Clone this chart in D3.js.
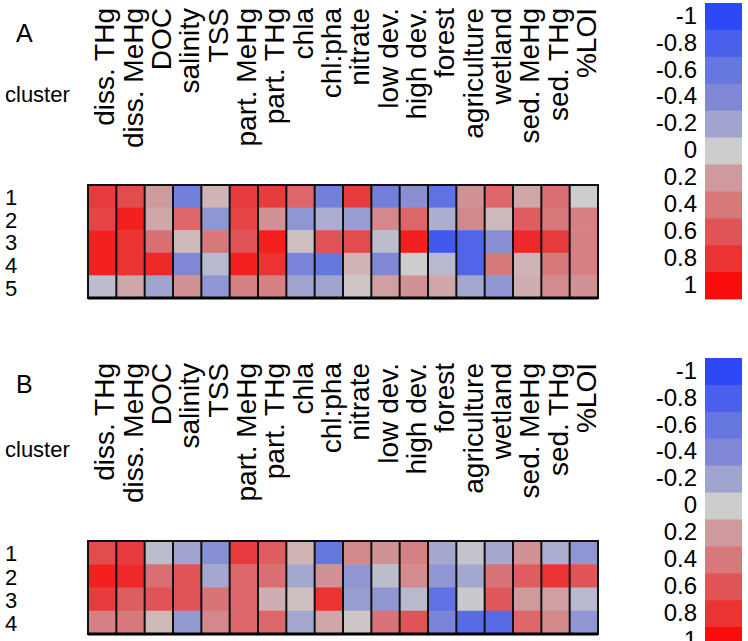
<!DOCTYPE html>
<html>
<head>
<meta charset="utf-8">
<script src="https://cdn.jsdelivr.net/npm/d3@7"></script>
<style>
  html, body { margin: 0; padding: 0; background: #fff; }
  svg { display: block; font-family: "Liberation Sans", Arial, sans-serif; }
</style>
</head>
<body>
<svg id="chart" width="748" height="641"></svg>
<script>
// ---------------- data ----------------
const variables = ["diss. THg", "diss. MeHg", "DOC", "salinity", "TSS", "part. MeHg", "part. THg",
  "chla", "chl:pha", "nitrate", "low dev.", "high dev.", "forest", "agriculture", "wetland",
  "sed. MeHg", "sed. THg", "%LOI"];

const clustersA = ["1", "2", "3", "4", "5"];
const valuesA = [
  [0.75, 0.65, 0.2, -0.5, 0.1, 0.75, 0.75, 0.5, -0.5, 0.75, -0.5, -0.35, -0.65, 0.25, 0.5, 0.15, 0.45, 0.0],
  [0.7, 0.9, 0.15, 0.5, -0.3, 0.7, 0.25, -0.3, -0.15, -0.25, 0.3, 0.5, -0.15, 0.3, 0.08, 0.55, 0.4, 0.35],
  [0.9, 0.8, 0.45, 0.08, 0.4, 0.6, 0.9, 0.05, 0.6, 0.65, -0.08, 0.9, -0.85, -0.75, -0.35, 0.85, 0.75, 0.35],
  [0.9, 0.8, 0.85, -0.4, -0.1, 0.9, 0.8, -0.45, -0.6, 0.1, -0.4, 0.0, -0.1, -0.75, 0.4, 0.1, 0.4, 0.35],
  [-0.08, 0.15, -0.2, 0.25, -0.3, 0.35, 0.35, -0.2, -0.2, 0.03, 0.18, 0.25, 0.15, -0.18, -0.3, 0.12, 0.28, 0.25]
];

const clustersB = ["1", "2", "3", "4"];
const valuesB = [
  [0.65, 0.75, -0.08, -0.2, -0.35, 0.75, 0.55, 0.1, -0.6, 0.3, 0.25, 0.35, -0.18, -0.05, -0.18, 0.25, -0.15, -0.3],
  [0.9, 0.85, 0.45, 0.6, -0.18, 0.5, 0.45, -0.18, 0.25, -0.3, -0.08, 0.28, -0.3, -0.18, 0.42, 0.55, 0.8, 0.6],
  [0.75, 0.55, 0.6, 0.6, 0.42, 0.5, 0.12, 0.05, 0.8, -0.25, -0.3, -0.1, -0.65, -0.02, 0.58, 0.2, 0.18, -0.1],
  [0.35, 0.4, 0.08, -0.28, 0.3, 0.5, 0.5, -0.18, 0.15, 0.03, 0.42, 0.6, -0.45, -0.7, -0.7, 0.5, 0.3, -0.3]
];

const legendTicks = [-1, -0.8, -0.6, -0.4, -0.2, 0, 0.2, 0.4, 0.6, 0.8, 1];
const legendColors = ["#2d48f6", "#4a5feb", "#6677e0", "#8088d6", "#a0a4ce", "#cdcdcd",
  "#cf9a9d", "#d7787b", "#e05457", "#eb3334", "#fb0c0c"];

// ---------------- drawing ----------------
const svg = d3.select("#chart");
const color = d3.scaleLinear().domain(legendTicks).range(legendColors).clamp(true);

const x = d3.scaleBand().domain(variables).range([88, 598]).padding(0);

function panel(letter, clusters, values, top, bottom, labelTop, letterY, clusterY) {
  const g = svg.append("g");
  const y = d3.scaleBand().domain(clusters).range([top, bottom]).padding(0);

  g.append("text").attr("x", 16).attr("y", letterY)
    .attr("font-size", 25).attr("fill", "#000").text(letter);
  g.append("text").attr("x", 5).attr("y", clusterY)
    .attr("font-size", 22).attr("fill", "#000").text("cluster");

  // column labels
  g.selectAll("text.col").data(variables).join("text")
    .attr("class", "col")
    .attr("transform", d => `translate(${x(d) + x.bandwidth() / 2 + 12},${labelTop}) rotate(-90)`)
    .attr("text-anchor", "end")
    .attr("font-size", 28)
    .attr("fill", "#000")
    .text(d => d);

  // row labels
  g.selectAll("text.row").data(clusters).join("text")
    .attr("class", "row")
    .attr("x", 5)
    .attr("y", d => y(d) + y.bandwidth() / 2 + 3)
    .attr("dominant-baseline", "middle")
    .attr("font-size", 22)
    .attr("fill", "#000")
    .text(d => d);

  // cells
  const cells = [];
  clusters.forEach((c, i) => variables.forEach((v, j) => cells.push({ c, v, val: values[i][j] })));
  g.selectAll("rect.cell").data(cells).join("rect")
    .attr("class", "cell")
    .attr("x", d => x(d.v))
    .attr("y", d => y(d.c))
    .attr("width", x.bandwidth() + 0.5)
    .attr("height", y.bandwidth() + 0.5)
    .attr("fill", d => color(d.val));

  // column separators
  g.selectAll("line.sep").data(variables.slice(1)).join("line")
    .attr("class", "sep")
    .attr("x1", d => x(d)).attr("x2", d => x(d))
    .attr("y1", top).attr("y2", bottom)
    .attr("stroke", "#111").attr("stroke-width", 2);

  // frame
  g.append("rect")
    .attr("x", x.range()[0]).attr("y", top)
    .attr("width", x.range()[1] - x.range()[0]).attr("height", bottom - top)
    .attr("fill", "none").attr("stroke", "#111").attr("stroke-width", 2);
  g.append("line")
    .attr("x1", x.range()[0]).attr("x2", x.range()[1])
    .attr("y1", bottom).attr("y2", bottom)
    .attr("stroke", "#000").attr("stroke-width", 3);
}

function legend(top) {
  const g = svg.append("g");
  const yL = d3.scaleBand().domain(legendTicks).range([top, top + 11 * 26.9]).padding(0);
  g.selectAll("rect").data(legendTicks).join("rect")
    .attr("x", 705).attr("y", d => yL(d))
    .attr("width", 37).attr("height", yL.bandwidth() + 0.5)
    .attr("fill", d => color(d));
  g.selectAll("text").data(legendTicks).join("text")
    .attr("x", 697)
    .attr("y", d => yL(d) + yL.bandwidth() / 2 + 1)
    .attr("dominant-baseline", "middle")
    .attr("text-anchor", "end")
    .attr("font-size", 24)
    .attr("fill", "#000")
    .text(d => String(d));
}

panel("A", clustersA, valuesA, 185, 298, 8, 42, 102);
panel("B", clustersB, valuesB, 541, 634, 363, 393, 457);
legend(3);
legend(358);
</script>
</body>
</html>
